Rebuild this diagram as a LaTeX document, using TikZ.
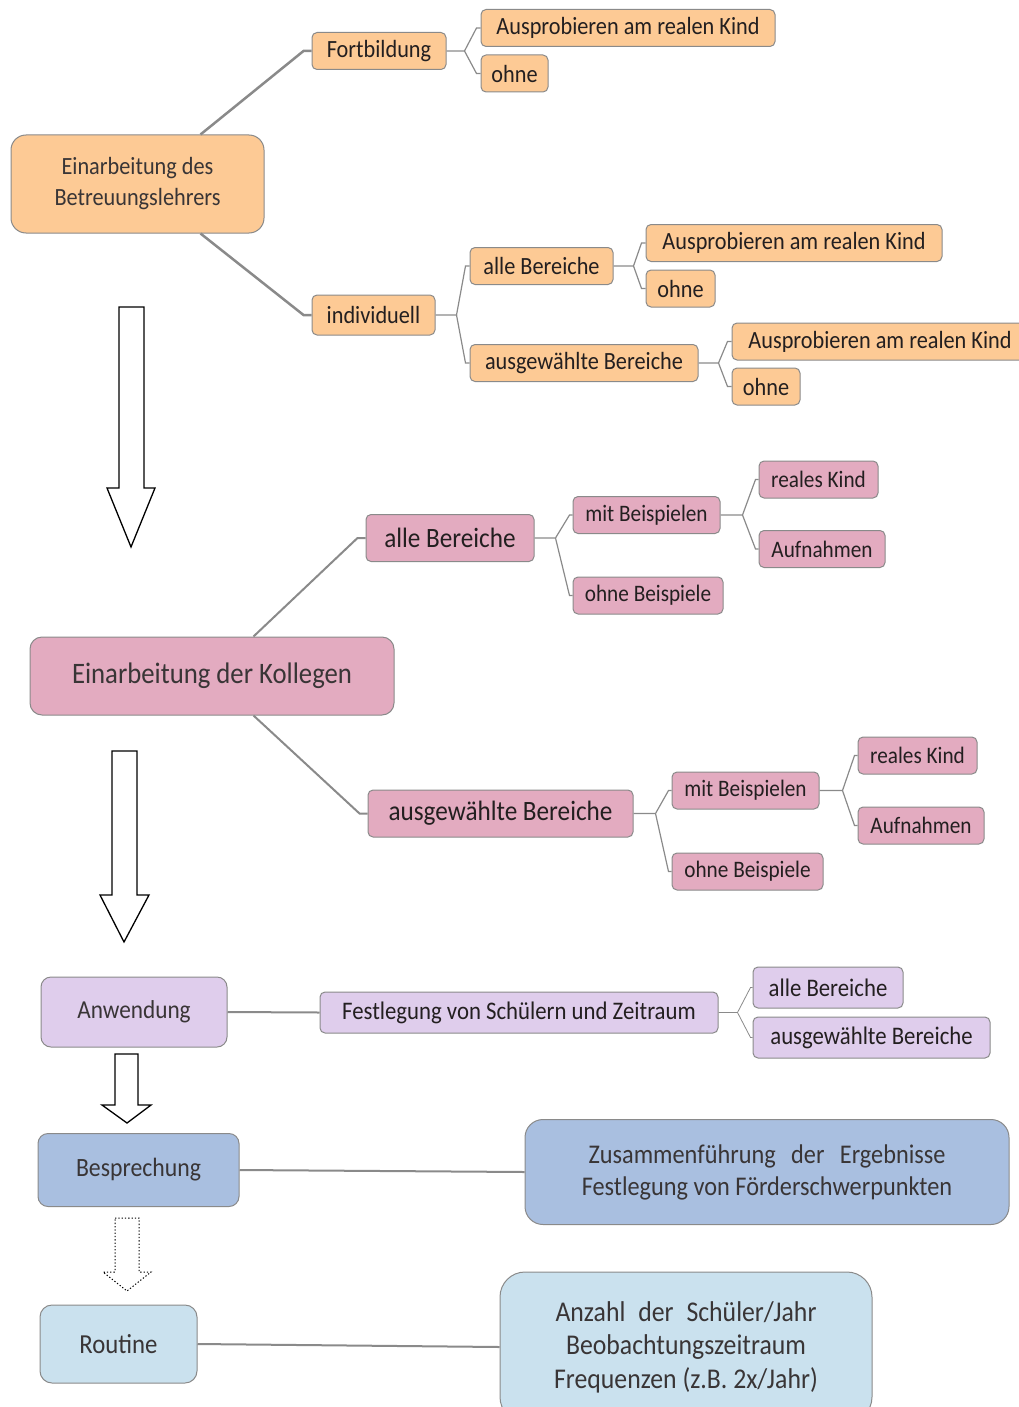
\documentclass[tikz,border=0pt]{standalone}
\usepackage{fontspec}
\setmainfont{Carlito}[FakeStretch=0.9]
\usetikzlibrary{calc}

\definecolor{linegray}{HTML}{8A8A8A}
\definecolor{txt}{HTML}{231F20}
\definecolor{orangefill}{HTML}{FDCA95}
\definecolor{pinkfill}{HTML}{E3ABC0}
\definecolor{lilacfill}{HTML}{DFCDEC}
\definecolor{bluefill}{HTML}{A9BFE0}
\definecolor{paleblue}{HTML}{CAE1EE}

\begin{document}
\begin{tikzpicture}[x=1pt,y=-1pt,
  box/.style={draw=linegray,line width=1pt,rounded corners=5pt,inner sep=0pt,text=txt},
  orange/.style={box,fill=orangefill,minimum height=37pt,font=\fontsize{24.75}{27}\selectfont},
  pinksmall/.style={box,fill=pinkfill,minimum height=37pt,font=\fontsize{23.6}{26}\selectfont},
  pinkbig/.style={box,fill=pinkfill,minimum height=47pt,font=\fontsize{28}{30}\selectfont},
  lilac/.style={box,fill=lilacfill,minimum height=41pt,font=\fontsize{25.3}{28}\selectfont},
  trunk/.style={draw=linegray,line width=2.5pt},
  twig/.style={draw=linegray,line width=1.2pt},
  blockarrow/.style={draw=black,line width=1.3pt,fill=white,line join=miter}]
\useasboundingbox (0,0) rectangle (1019,1407);

% Betreuungslehrer
\node[box,fill=orangefill,rounded corners=15pt,minimum width=253pt,minimum height=98pt,
  align=center,font=\fontsize{24.75}{31}\selectfont,text=txt!90] (lehrer) at (137.5,184)
  {Einarbeitung des\\Betreuungslehrers};
\node[orange,minimum width=134pt] (fortb) at (379,51) {Fortbildung};
\node[orange,minimum width=294pt] (fortbkind) at (628,28) {Ausprobieren am realen Kind};
\node[orange,minimum width=67pt] (fortbohne) at (514.5,73.5) {ohne};
\node[orange,minimum width=123pt,minimum height=40pt] (indiv) at (373.5,315) {individuell};
\node[orange,minimum width=143pt] (ialle) at (541.5,266) {alle Bereiche};
\node[orange,minimum width=296pt] (iallekind) at (794,243) {Ausprobieren am realen Kind};
\node[orange,minimum width=69pt] (ialleohne) at (680.5,288.5) {ohne};
\node[orange,minimum width=228pt] (iausw) at (584,363) {ausgewählte Bereiche};
\node[orange,minimum width=296pt] (iauswkind) at (880,341.5) {Ausprobieren am realen Kind};
\node[orange,minimum width=68pt] (iauswohne) at (766,386.5) {ohne};

\draw[trunk] ([xshift=-64pt]lehrer.north east) -- ([xshift=-8pt]fortb.west) -- (fortb.west);
\draw[trunk] ([xshift=-64pt]lehrer.south east) -- ([xshift=-8pt]indiv.west) -- (indiv.west);
\draw[twig] (fortb.east) -- ++(18,0) coordinate (fk1) -- ([xshift=-4pt]fortbkind.west) -- (fortbkind.west);
\draw[twig] (fk1) -- ([xshift=-4pt]fortbohne.west) -- (fortbohne.west);
\draw[twig] (indiv.east) -- ++(21,0) coordinate (fk2) -- ([xshift=-4pt]ialle.west) -- (ialle.west);
\draw[twig] (fk2) -- ([xshift=-4pt]iausw.west) -- (iausw.west);
\draw[twig] (ialle.east) -- ++(20,0) coordinate (fk3) -- ([xshift=-4pt]iallekind.west) -- (iallekind.west);
\draw[twig] (fk3) -- ([xshift=-4pt]ialleohne.west) -- (ialleohne.west);
\draw[twig] (iausw.east) -- ++(20,0) coordinate (fk4) -- ([xshift=-4pt]iauswkind.west) -- (iauswkind.west);
\draw[twig] (fk4) -- ([xshift=-4pt]iauswohne.west) -- (iauswohne.west);

\draw[blockarrow] (119,307) -- (144,307) -- (144,488) -- (155,488) -- (131,547)
  -- (107,488) -- (119,488) -- cycle;

% Kollegen
\node[box,fill=pinkfill,rounded corners=12pt,minimum width=364pt,minimum height=78pt,
  font=\fontsize{29.7}{32}\selectfont,text=txt!90] (koll) at (212,676) {Einarbeitung der Kollegen};
\node[pinkbig,minimum width=168pt] (palle) at (450,538) {alle Bereiche};
\node[pinksmall,minimum width=147pt] (pallemit) at (646.5,515) {mit Beispielen};
\node[pinksmall,minimum width=150pt] (palleohne) at (648,595.5) {ohne Beispiele};
\node[pinksmall,minimum width=119pt] (pallekind) at (818.5,479.5) {reales Kind};
\node[pinksmall,minimum width=126pt] (palleaufn) at (822,549) {Aufnahmen};
\node[pinkbig,minimum width=265pt] (pausw) at (500.5,813.5) {ausgewählte Bereiche};
\node[pinksmall,minimum width=147pt] (pauswmit) at (745.5,790.5) {mit Beispielen};
\node[pinksmall,minimum width=151pt] (pauswohne) at (747.5,871.5) {ohne Beispiele};
\node[pinksmall,minimum width=119pt] (pauswkind) at (917.5,755.5) {reales Kind};
\node[pinksmall,minimum width=126pt] (pauswaufn) at (921,825.5) {Aufnahmen};

\draw[trunk,line width=2pt] ([xshift=-141pt]koll.north east) -- ([xshift=-8pt]palle.west) -- (palle.west);
\draw[trunk,line width=2pt] ([xshift=-141pt]koll.south east) -- ([xshift=-8pt]pausw.west) -- (pausw.west);
\draw[twig] (palle.east) -- ++(21,0) coordinate (fk5) -- ([xshift=-3pt]pallemit.west) -- (pallemit.west);
\draw[twig] (fk5) -- ([xshift=-3pt]palleohne.west) -- (palleohne.west);
\draw[twig] (pallemit.east) -- ++(22,0) coordinate (fk6) -- ([xshift=-3pt]pallekind.west) -- (pallekind.west);
\draw[twig] (fk6) -- ([xshift=-3pt]palleaufn.west) -- (palleaufn.west);
\draw[twig] (pausw.east) -- ++(22,0) coordinate (fk7) -- ([xshift=-3pt]pauswmit.west) -- (pauswmit.west);
\draw[twig] (fk7) -- ([xshift=-3pt]pauswohne.west) -- (pauswohne.west);
\draw[twig] (pauswmit.east) -- ++(23,0) coordinate (fk8) -- ([xshift=-3pt]pauswkind.west) -- (pauswkind.west);
\draw[twig] (fk8) -- ([xshift=-3pt]pauswaufn.west) -- (pauswaufn.west);

\draw[blockarrow] (112,751) -- (137,751) -- (137,895) -- (149,895) -- (124,942)
  -- (100,895) -- (112,895) -- cycle;

% Anwendung
\node[box,fill=lilacfill,rounded corners=10pt,minimum width=186pt,minimum height=70pt,
  font=\fontsize{25.85}{28}\selectfont,text=txt!90] (anw) at (134,1012) {Anwendung};
\node[lilac,minimum width=398pt] (festl) at (519,1012.5) {Festlegung von Schülern und Zeitraum};
\node[lilac,minimum width=150pt] (festlalle) at (828,987.5) {alle Bereiche};
\node[lilac,minimum width=237pt] (festlausw) at (871.5,1037.5) {ausgewählte Bereiche};

\draw[trunk,line width=2pt] (anw.east) -- (festl.west);
\draw[twig,line width=0.8pt] (festl.east) -- ++(19,0) coordinate (fk9) -- ([xshift=-2pt]festlalle.west) -- (festlalle.west);
\draw[twig,line width=0.8pt] (fk9) -- ([xshift=-2pt]festlausw.west) -- (festlausw.west);

\draw[blockarrow] (115,1054) -- (138,1054) -- (138,1105) -- (151,1105) -- (127,1123)
  -- (102,1105) -- (115,1105) -- cycle;

% Besprechung
\node[box,fill=bluefill,rounded corners=10pt,minimum width=201pt,minimum height=73pt,
  font=\fontsize{26.4}{29}\selectfont,text=txt!90] (bespr) at (138.5,1170) {Besprechung};
\node[box,fill=bluefill,rounded corners=18pt,minimum width=484pt,minimum height=105pt,
  align=center,font=\fontsize{27}{32}\selectfont,text=txt!90] (ergeb) at (767,1172)
  {\makebox[357pt][s]{Zusammenführung der Ergebnisse}\\Festlegung von Förderschwerpunkten};
\draw[trunk,line width=2pt] (bespr.east) -- (ergeb.west);

\draw[blockarrow,dotted,line width=1pt] (115,1218) -- (139,1218) -- (139,1272) -- (151,1272)
  -- (127,1291) -- (103,1272) -- (115,1272) -- cycle;

% Routine
\node[box,fill=paleblue,rounded corners=12pt,minimum width=157pt,minimum height=78pt,
  font=\fontsize{27.5}{30}\selectfont,text=txt!90] (routine) at (118.5,1344) {Routine};
\node[box,fill=paleblue,rounded corners=25pt,minimum width=372pt,minimum height=150pt,
  align=center,font=\fontsize{28.6}{33.5}\selectfont,text=txt!90] (anzahl) at (686,1347)
  {\makebox[261pt][s]{Anzahl der Schüler/Jahr}\\Beobachtungszeitraum\\Frequenzen (z.B. 2x/Jahr)};
\draw[trunk,line width=2pt] (routine.east) -- (anzahl.west);

\end{tikzpicture}
\end{document}
